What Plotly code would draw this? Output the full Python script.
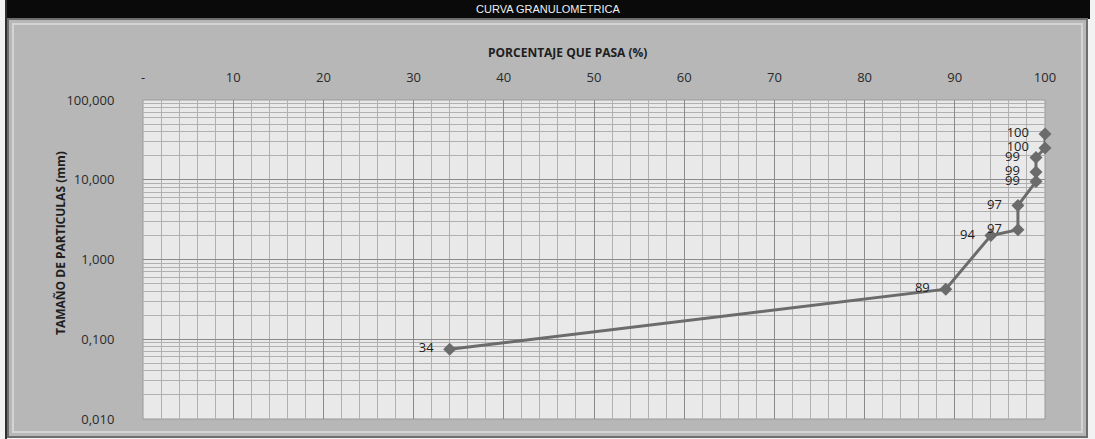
import plotly.graph_objects as go

# Sieve analysis results
tamano_mm = [0.075, 0.425, 2.0, 2.36, 4.75, 9.5, 12.5, 19.0, 25.0, 37.5]
porcentaje_pasa = [34, 89, 94, 97, 97, 99, 99, 99, 100, 100]

x_ticks = [0, 10, 20, 30, 40, 50, 60, 70, 80, 90, 100]
x_ticktext = ["-", "10", "20", "30", "40", "50", "60", "70", "80", "90", "100"]
y_ticks = [0.01, 0.1, 1, 10, 100]
y_ticktext = ["0,010", "0,100", "1,000", "10,000", "100,000"]

W, H = 1095, 439
L, R, T, B = 143, 50, 100, 20
PW, PH = W - L - R, H - T - B


def px(x):
    return (x - L) / PW


def py(y):
    return (H - B - y) / PH


minor_y = [m * 10 ** e for e in range(-2, 2) for m in range(2, 10)]

fig = go.Figure()
# curve with markers
fig.add_trace(go.Scatter(
    x=porcentaje_pasa, y=tamano_mm,
    mode="lines+markers",
    line=dict(color="#6b6b6b", width=3),
    marker=dict(symbol="diamond", size=10, color="#6b6b6b"),
    cliponaxis=False,
    showlegend=False,
    hoverinfo="skip",
))
# data labels, set a little away from each point
fig.add_trace(go.Scatter(
    x=porcentaje_pasa, y=tamano_mm,
    mode="markers+text",
    text=[str(v) for v in porcentaje_pasa],
    textposition="middle left",
    textfont=dict(family="Open Sans", size=13, color="#222222"),
    marker=dict(size=24, color="rgba(0,0,0,0)"),
    cliponaxis=False,
    showlegend=False,
))

shapes = [
    # top title bar
    dict(type="rect", xref="paper", yref="paper", layer="below",
         x0=px(7), x1=px(1090), y0=py(0), y1=py(19),
         fillcolor="#0a0a0a", line=dict(width=0)),
    # chart frame
    dict(type="rect", xref="paper", yref="paper", layer="below",
         x0=px(8), x1=px(1087), y0=py(19), y1=py(437),
         fillcolor="#b7b7b7", line=dict(color="#6e6e6e", width=2)),
    dict(type="rect", xref="paper", yref="paper", layer="below",
         x0=px(13), x1=px(1082), y0=py(24), y1=py(432),
         fillcolor="rgba(0,0,0,0)", line=dict(color="#d4d4d4", width=2)),
    # plot area
    dict(type="rect", xref="paper", yref="paper", layer="below",
         x0=0, x1=1, y0=0, y1=1,
         fillcolor="#e9e9e9", line=dict(color="#9a9a9a", width=1)),
    # outer left rule
    dict(type="line", xref="paper", yref="paper", layer="below",
         x0=px(6), x1=px(6), y0=py(0), y1=py(439),
         line=dict(color="#303030", width=2)),
]

annotations = [
    dict(text="CURVA GRANULOMETRICA", xref="paper", yref="paper",
         x=px(548), y=py(9), showarrow=False, xanchor="center", yanchor="middle",
         font=dict(family="Liberation Sans", size=11, color="#f0f0f0")),
    dict(text="<b>PORCENTAJE QUE PASA (%)</b>", xref="paper", yref="paper",
         x=px(567), y=py(52), showarrow=False, xanchor="center", yanchor="middle",
         font=dict(family="Open Sans", size=12, color="#1e1e1e")),
    dict(text="<b>TAMAÑO DE PARTICULAS (mm)</b>", xref="paper", yref="paper",
         x=px(60), y=py(243), showarrow=False, xanchor="center", yanchor="middle",
         textangle=-90, font=dict(family="Open Sans", size=12, color="#1e1e1e")),
]

fig.update_layout(
    width=W, height=H,
    margin=dict(l=L, r=R, t=T, b=B),
    paper_bgcolor="#f2f2f2",
    plot_bgcolor="#e9e9e9",
    shapes=shapes,
    annotations=annotations,
    xaxis=dict(
        side="top", range=[0, 100],
        tickmode="array", tickvals=x_ticks, ticktext=x_ticktext,
        tickfont=dict(family="Open Sans", size=13, color="#2a2a2a"),
        ticks="outside", ticklen=4, tickcolor="rgba(0,0,0,0)",
        ticklabelstandoff=8,
        showgrid=True, gridcolor="#8a8a8a", gridwidth=1,
        minor=dict(dtick=2, showgrid=True, gridcolor="#b0b0b0", gridwidth=1),
        zeroline=False, showline=False,
    ),
    yaxis=dict(
        type="log", range=[-2, 2],
        tickmode="array", tickvals=y_ticks, ticktext=y_ticktext,
        tickfont=dict(family="Open Sans", size=13, color="#2a2a2a"),
        ticks="outside", ticklen=4, tickcolor="rgba(0,0,0,0)",
        ticklabelstandoff=21,
        showgrid=True, gridcolor="#8a8a8a", gridwidth=1,
        minor=dict(tickmode="array", tickvals=minor_y, showgrid=True,
                   gridcolor="#b0b0b0", gridwidth=1),
        zeroline=False, showline=False,
    ),
)

fig.write_html("out.html")
